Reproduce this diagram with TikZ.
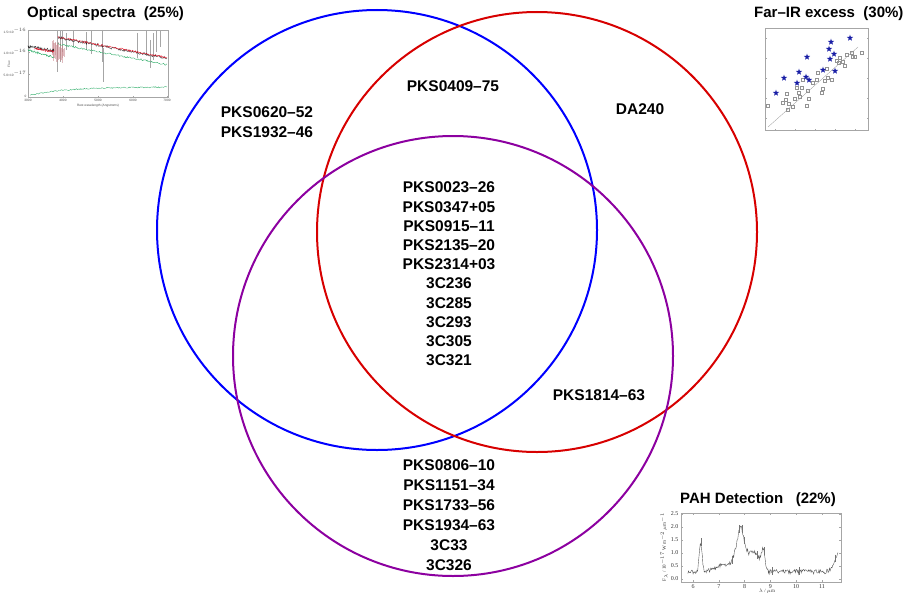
\documentclass[tikz,border=0pt]{standalone}
\usepackage{fontspec}
\setmainfont{Liberation Sans}
\newfontfamily\seriffont{Liberation Serif}
\definecolor{ringblue}{RGB}{0,0,255}
\definecolor{ringred}{RGB}{215,0,0}
\definecolor{ringpurple}{RGB}{140,0,160}
\definecolor{specgreen}{RGB}{40,170,100}
\definecolor{specred}{RGB}{230,20,40}
\definecolor{starblue}{RGB}{25,30,165}
\begin{document}
\begin{tikzpicture}[x=1pt,y=-1pt,
  lab/.style={font=\bfseries\fontsize{15.5}{19.2}\selectfont, align=center, inner sep=0pt},
  labb/.style={font=\bfseries\fontsize{15.5}{20}\selectfont, align=center, inner sep=0pt},
  ttl/.style={font=\bfseries\fontsize{15}{18}\selectfont, inner sep=0pt, anchor=west},
  ring/.style={line width=2pt},
  tinylab/.style={font=\fontsize{3.2}{3.6}\selectfont, inner sep=0pt, text=black!70},
  paht/.style={font=\seriffont\fontsize{6}{7}\selectfont, inner sep=0pt, text=black!80},
  frame/.style={draw=gray!70, line width=0.35pt},
  declare function={
    gs(\t,\c,\w)=exp(max(-9,-(\t-\c)*(\t-\c)/\w));
    pah(\t)=0.28+1.1*gs(\t,6.3,0.006)+0.22*gs(\t,7.1,0.15)+1.2*gs(\t,7.85,0.1)+0.5*gs(\t,7.85,0.02)+0.7*gs(\t,8.4,0.06)+0.75*gs(\t,8.72,0.01)+0.75*gs(\t,11.65,0.05);
  }]
\useasboundingbox (0,0) rectangle (909,594);
\pgfmathsetseed{7}

% ---------------- Venn circles ----------------
\draw[ring, ringblue] (377,230) circle[radius=220pt];
\draw[ring, ringred] (537,232) circle[radius=220pt];
\draw[ring, ringpurple] (453,356) circle[radius=220pt];

% ---------------- labels ----------------
\node[labb] (optonly) at (267,122) {PKS0620–52\\PKS1932–46};
\node[lab] (optir) at (453,86) {PKS0409–75};
\node[lab] (ironly) at (640,109) {DA240};
\node[lab] (all) at (449,274) {PKS0023–26\\PKS0347+05\\PKS0915–11\\PKS2135–20\\PKS2314+03\\3C236\\3C285\\3C293\\3C305\\3C321};
\node[lab] (irpah) at (599,395) {PKS1814–63};
\node[labb] (pahonly) at (449,515) {PKS0806–10\\PKS1151–34\\PKS1733–56\\PKS1934–63\\3C33\\3C326};

% ---------------- titles ----------------
\node[ttl] (t1) at (27,14) {Optical spectra\ \ (25\%)};
\node[ttl] (t2) at (754,14) {Far–IR excess\ \ (30\%)};
\node[ttl] (t3) at (680,500) {PAH Detection\ \ \ (22\%)};

% ---------------- optical spectrum inset ----------------
\draw[frame] (28,30) rectangle (168,97);
\foreach \xx/\tx in {28/3000,63/4000,98/5000,133/6000,167/7000}{
  \draw[gray!70, line width=0.3pt] (\xx,97) -- (\xx,95.5);
  \node[tinylab] (ob\tx) at (\xx,100.5) {\tx};
}
\foreach \yy in {30,52,74,97}{
  \draw[gray!70, line width=0.3pt] (28,\yy) -- (29.5,\yy);
}
\node[tinylab, anchor=east] (oy1) at (26.5,31) {1.5×10$^{-16}$};
\node[tinylab, anchor=east] (oy2) at (26.5,52) {1.0×10$^{-16}$};
\node[tinylab, anchor=east] (oy3) at (26.5,74) {5.0×10$^{-17}$};
\node[tinylab, anchor=east] (oy4) at (26.5,96) {0};
\node[tinylab] (oxl) at (98,105.5) {Rest wavelength (Angstroms)};
\node[tinylab, rotate=90] (oyl) at (9,64) {Flux};
% sky lines
\foreach \xx/\ya/\yb in {57/30/72,60/30/62,62/31/52,66/33/50,73/30/46,86/32/50,91/30/54,102/30/62,103/48/82,137/33/58,146/30/56,150/40/68,153/33/60,156/30/52,160/31/47}{
  \draw[gray!70, line width=0.3pt] (\xx,\ya) -- (\xx,\yb);
}
% reddish absorption band
\foreach \xx in {52,52.7,...,64}{
  \draw[specred!45!gray!70, line width=0.3pt, opacity=0.55] (\xx,{40+0.6*(\xx-52)+2.5*rand}) -- (\xx,{57+0.3*(\xx-52)+4*rand});
}
% spectra
\draw[black!85, line width=0.35pt] plot[domain=28:54, samples=70] (\x,{46.5+0.16*(\x-28)+1.5*rand});
\draw[black!85, line width=0.35pt] plot[domain=58:167, samples=150] (\x,{37.5+0.19*(\x-58)+1.4*rand});
\draw[specred, line width=0.35pt] plot[domain=34:54, samples=50] (\x,{47.5+0.16*(\x-28)+1.2*rand});
\draw[specred, line width=0.35pt] plot[domain=58:167, samples=150] (\x,{37+0.19*(\x-58)+1.0*rand});
\draw[specgreen, line width=0.35pt] plot[domain=28:54, samples=60] (\x,{50+0.28*(\x-28)+1*rand});
\draw[specgreen, line width=0.35pt] plot[domain=58:167, samples=150] (\x,{44+0.19*(\x-58)+0.9*rand});
\draw[specgreen, line width=0.35pt] plot[domain=30:167, samples=160] (\x,{96-9*(1-exp(-(\x-28)/35))+0.6*rand});

% ---------------- far-IR inset ----------------
\draw[frame] (765,28) rectangle (868,130);
\foreach \xx in {775,795,815,835,855}{
  \draw[gray!70, line width=0.3pt] (\xx,130) -- (\xx,128.5);
  \draw[gray!70, line width=0.3pt] (\xx,28) -- (\xx,29.5);
}
\foreach \yy in {38,58,78,98,118}{
  \draw[gray!70, line width=0.3pt] (765,\yy) -- (766.5,\yy);
  \draw[gray!70, line width=0.3pt] (868,\yy) -- (866.5,\yy);
}
\draw[gray!80, line width=0.3pt] (768,127) -- (858,47);
\foreach \a/\b in {768/106,783/103,787/94,789/104,795/99,799/93,802/88,808/91,807/106,809/99,817/80,823/89,825/81,828/78,832/80,837/61,840/58,843/62,847/55,852/53,855/57,862/53,853/57,839/63,813/83,800/97,793/107,788/110,822/93,803/80,818/73,827/69,845/66,786/100,797/88}{
  \draw[gray!85, line width=0.3pt] (\a-1.5,\b-1.5) rectangle (\a+1.5,\b+1.5);
}
\foreach \a/\b in {850/38,831/42,829/49,834/54,830/59,807/57,823/70,835/71,799/72,784/78,806/77,809/80,797/83,776/93}{
  \fill[starblue] (\a,\b) +(270:3.3) -- +(306:1.35) -- +(342:3.3) -- +(18:1.35) -- +(54:3.3) -- +(90:1.35) -- +(126:3.3) -- +(162:1.35) -- +(198:3.3) -- +(234:1.35) -- cycle;
}

% ---------------- PAH inset ----------------
\draw[frame] (681,513) rectangle (841,582);
\foreach \ff/\tf in {0/0.0,0.5/0.5,1/1.0,1.5/1.5,2/2.0,2.5/2.5}{
  \draw[gray!70, line width=0.3pt] (681,{579-26*\ff}) -- (683,{579-26*\ff});
  \draw[gray!70, line width=0.3pt] (841,{579-26*\ff}) -- (839,{579-26*\ff});
  \node[paht, anchor=east] (py\tf) at (678.5,{579-26*\ff}) {\tf};
}
\foreach \ll in {6,7,8,9,10,11}{
  \draw[gray!70, line width=0.3pt] ({693+(\ll-6)*25.8},582) -- ({693+(\ll-6)*25.8},580);
  \draw[gray!70, line width=0.3pt] ({693+(\ll-6)*25.8},513) -- ({693+(\ll-6)*25.8},515);
  \node[paht] (px\ll) at ({693+(\ll-6)*25.8},587) {\ll};
}
\node[paht, font=\seriffont\fontsize{5}{6}\selectfont] (pxl) at (767,591.3) {$\lambda$ / $\mu$m};
\node[paht, rotate=90, font=\seriffont\fontsize{5}{6}\selectfont] (pyl) at (664,547) {F$_\lambda$ / 10$^{-17}$ W m$^{-2}$ $\mu$m$^{-1}$};
\draw[black!65, line width=0.4pt] plot[domain=5.8:11.62, samples=230] ({693+(\x-6)*25.8},{579-26*(pah(\x)+0.09*rand)});
\foreach \ll in {6.3,7.5,7.8,7.9,8.0,8.5,8.75,9.05,10.1,11.5}{
  \draw[black!55, line width=0.3pt] ({693+(\ll-6)*25.8},{579-26*(pah(\ll)+0.18)}) -- ({693+(\ll-6)*25.8},{579-26*(pah(\ll)-0.12)});
}
\end{tikzpicture}
\end{document}
